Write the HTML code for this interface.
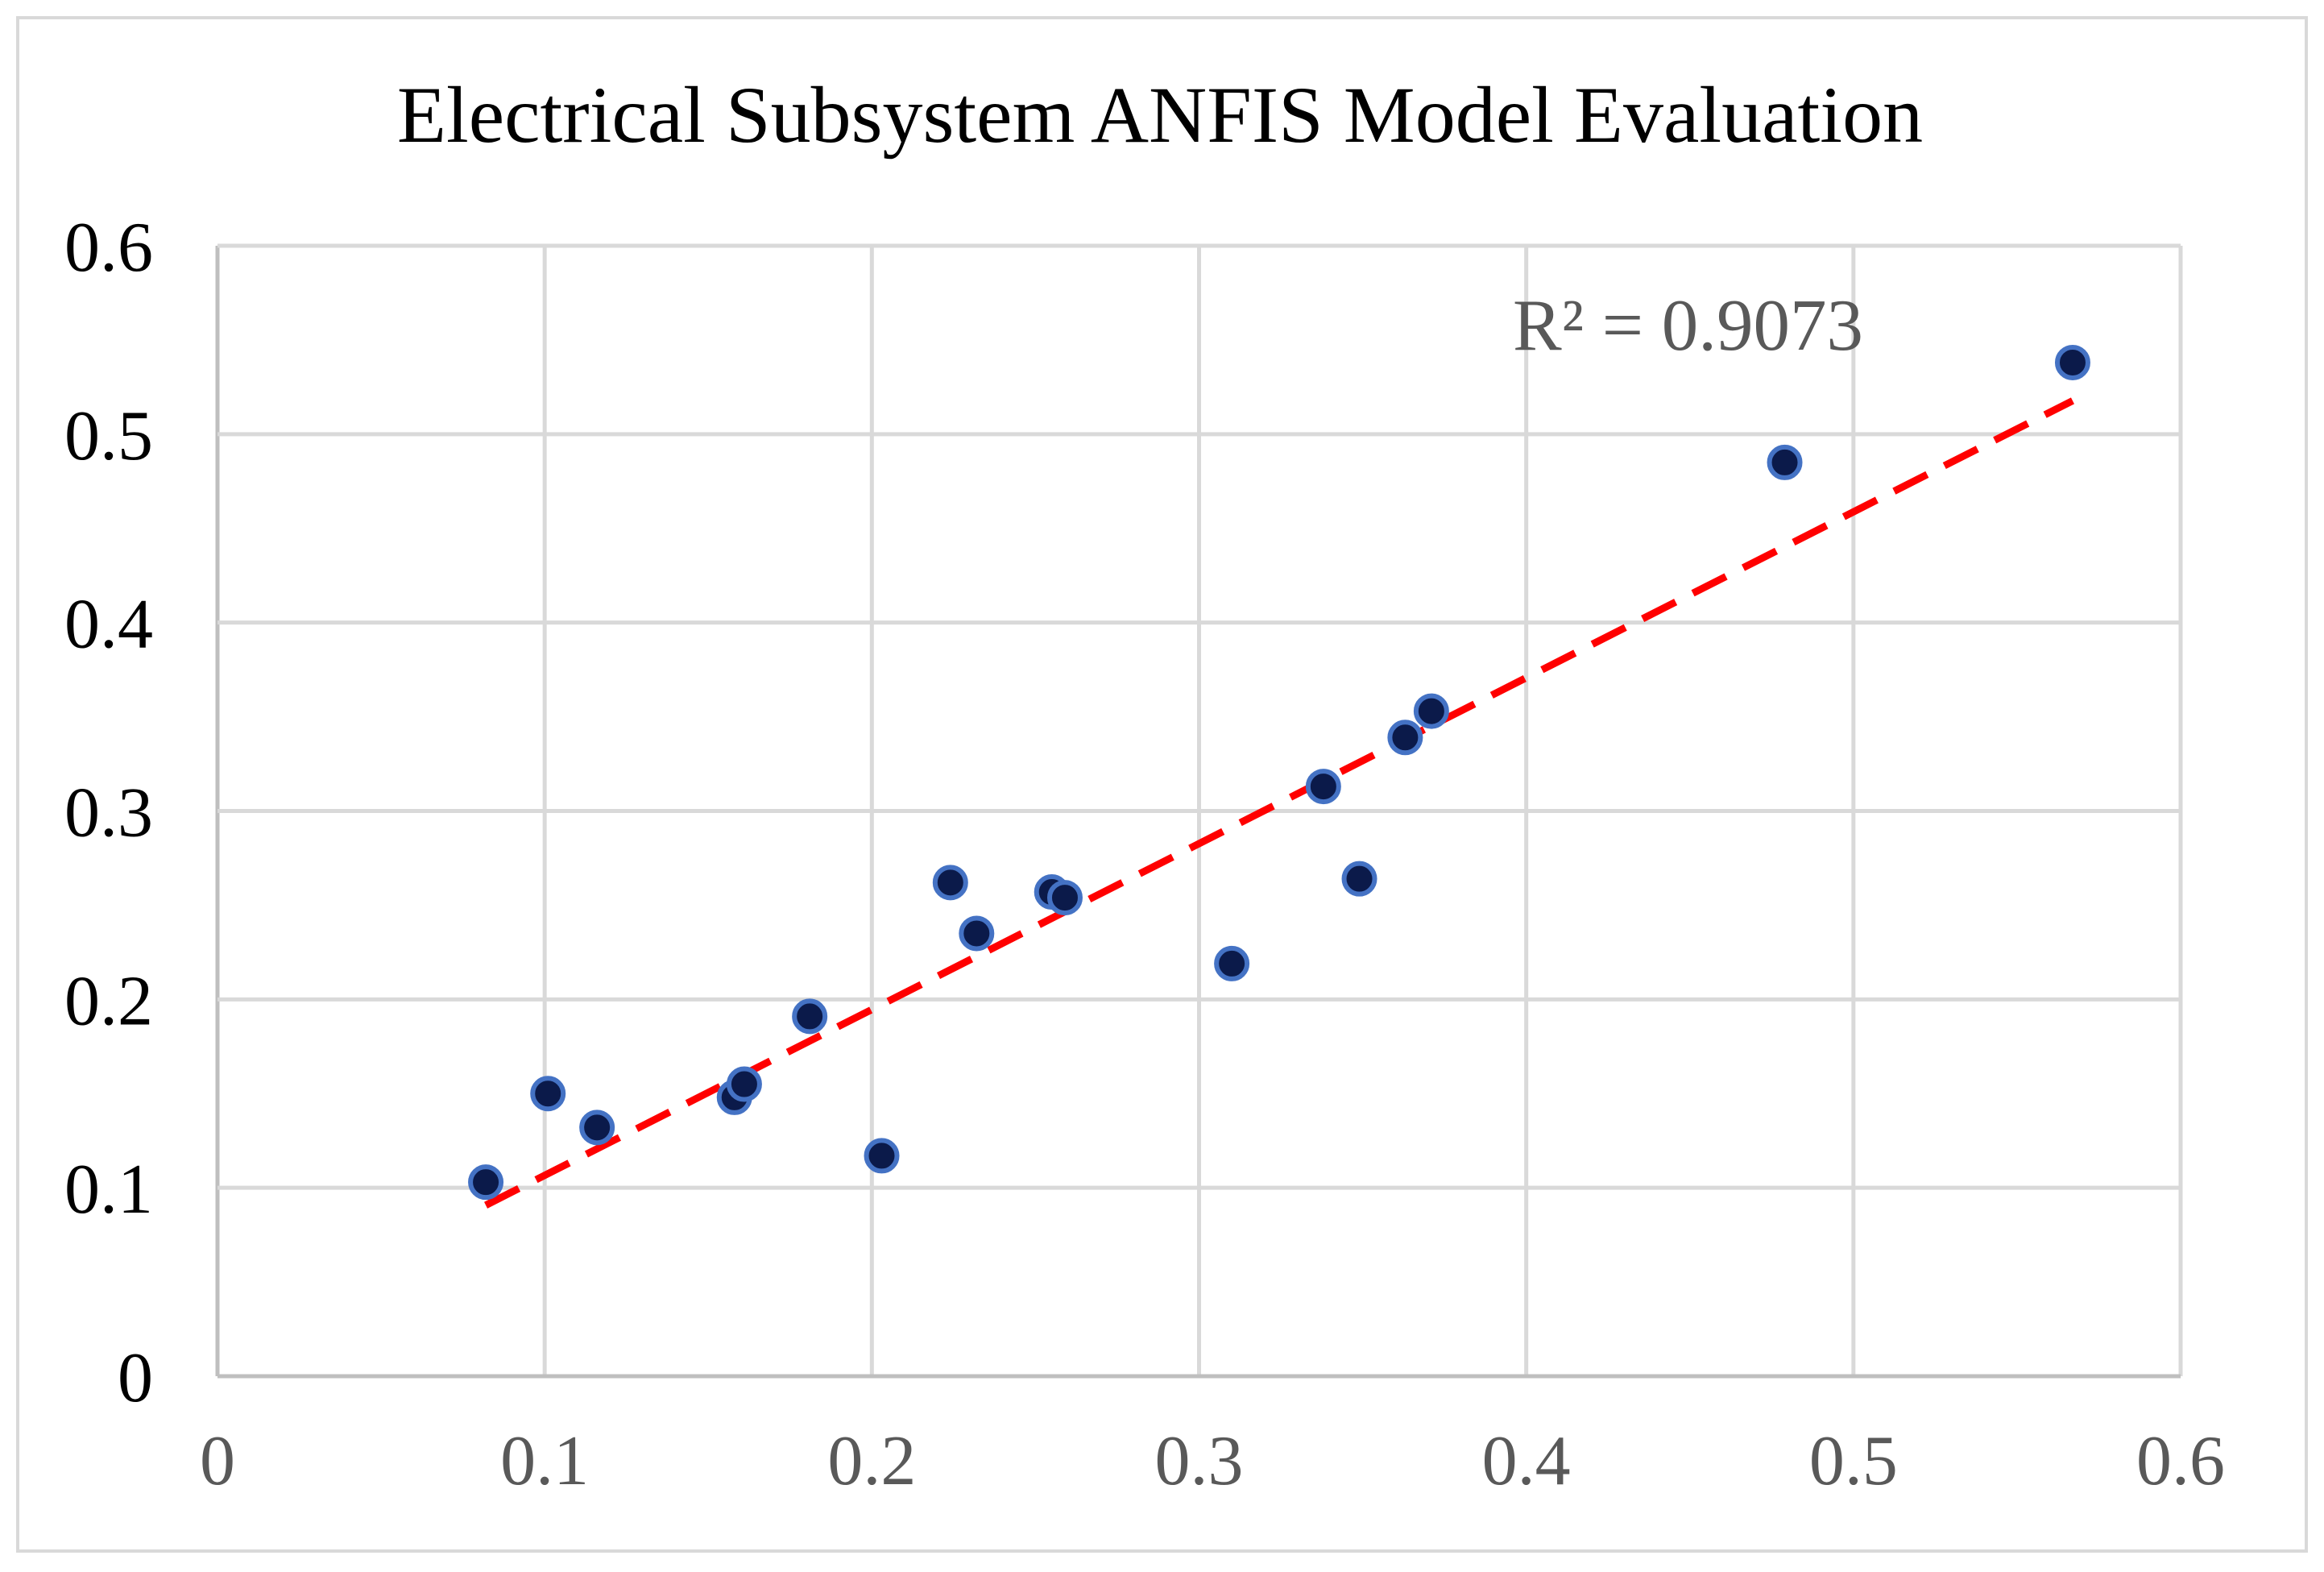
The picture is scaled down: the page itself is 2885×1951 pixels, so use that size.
<!DOCTYPE html>
<html><head><meta charset="utf-8"><style>
html,body{margin:0;padding:0;background:#fff;}
svg{display:block;font-family:"Liberation Serif",serif;}
</style></head><body>
<svg id="chart" width="2885" height="1951" viewBox="0 0 2885 1951">
<rect x="22" y="22" width="2841" height="1903" fill="#fff" stroke="#d9d9d9" stroke-width="4"/>
<text x="1440" y="176" font-size="100" text-anchor="middle" fill="#000">Electrical Subsystem ANFIS Model Evaluation</text>
<g id="grid"></g><g id="trend"></g><g id="pts"></g><g id="labels"></g>
<text x="1878" y="434" font-size="91" fill="#595959">R² = 0.9073</text>
</svg>
<script>
const xVals=[0.082,0.101,0.116,0.158,0.161,0.181,0.203,0.224,0.232,0.255,0.259,0.310,0.338,0.349,0.363,0.371,0.479,0.567];
const yVals=[0.103,0.150,0.132,0.148,0.155,0.191,0.117,0.262,0.235,0.257,0.254,0.219,0.313,0.264,0.339,0.353,0.485,0.538];
const xTicks=[0,0.1,0.2,0.3,0.4,0.5,0.6];
const yTicks=[0,0.1,0.2,0.3,0.4,0.5,0.6];
const NS="http://www.w3.org/2000/svg";
const L=270,R=2707,T=305,B=1708;
const sx=v=>L+(R-L)*v/0.6, sy=v=>B-(B-T)*v/0.6;
function mk(tag,attrs,parent){const e=document.createElementNS(NS,tag);for(const k in attrs)e.setAttribute(k,attrs[k]);parent.appendChild(e);return e;}
const grid=document.getElementById('grid'),lab=document.getElementById('labels');
xTicks.forEach((t,i)=>{
  const l=mk('line',{x1:sx(t),x2:sx(t),y1:T,y2:B,stroke:i===0?'#bfbfbf':'#d9d9d9','stroke-width':5},grid);
  
  
  const tx=mk('text',{x:sx(t),y:B+134,'font-size':88,'text-anchor':'middle',fill:'#595959'},lab);
  tx.textContent=String(t);
  
  
});
yTicks.forEach((t,i)=>{
  const l=mk('line',{x1:L,x2:R,y1:sy(t),y2:sy(t),stroke:i===0?'#bfbfbf':'#d9d9d9','stroke-width':5},grid);
  
  
  const tx=mk('text',{x:190,y:sy(t)+31,'font-size':88,'text-anchor':'end',fill:'#000'},lab);
  tx.textContent=String(t);
  
  
});
const n=xVals.length;let mx=0,my=0;for(let i=0;i<n;i++){mx+=xVals[i];my+=yVals[i];}mx/=n;my/=n;
let sxy=0,sxx=0;for(let i=0;i<n;i++){sxy+=(xVals[i]-mx)*(yVals[i]-my);sxx+=(xVals[i]-mx)**2;}
const slope=sxy/sxx,icpt=my-slope*mx;
const xmin=Math.min(...xVals),xmax=Math.max(...xVals);
const tl=mk('line',{x1:sx(xmin),y1:sy(icpt+slope*xmin),x2:sx(xmax),y2:sy(icpt+slope*xmax),stroke:'#ff0000','stroke-width':9,'stroke-dasharray':'46 24'},document.getElementById('trend'));


const pts=document.getElementById('pts');
for(let i=0;i<n;i++){
  const c=mk('circle',{cx:sx(xVals[i]),cy:sy(yVals[i]),r:19,fill:'#0b1a4a',stroke:'#4472c4','stroke-width':6},pts);
  
  
}
</script>
</body></html>
